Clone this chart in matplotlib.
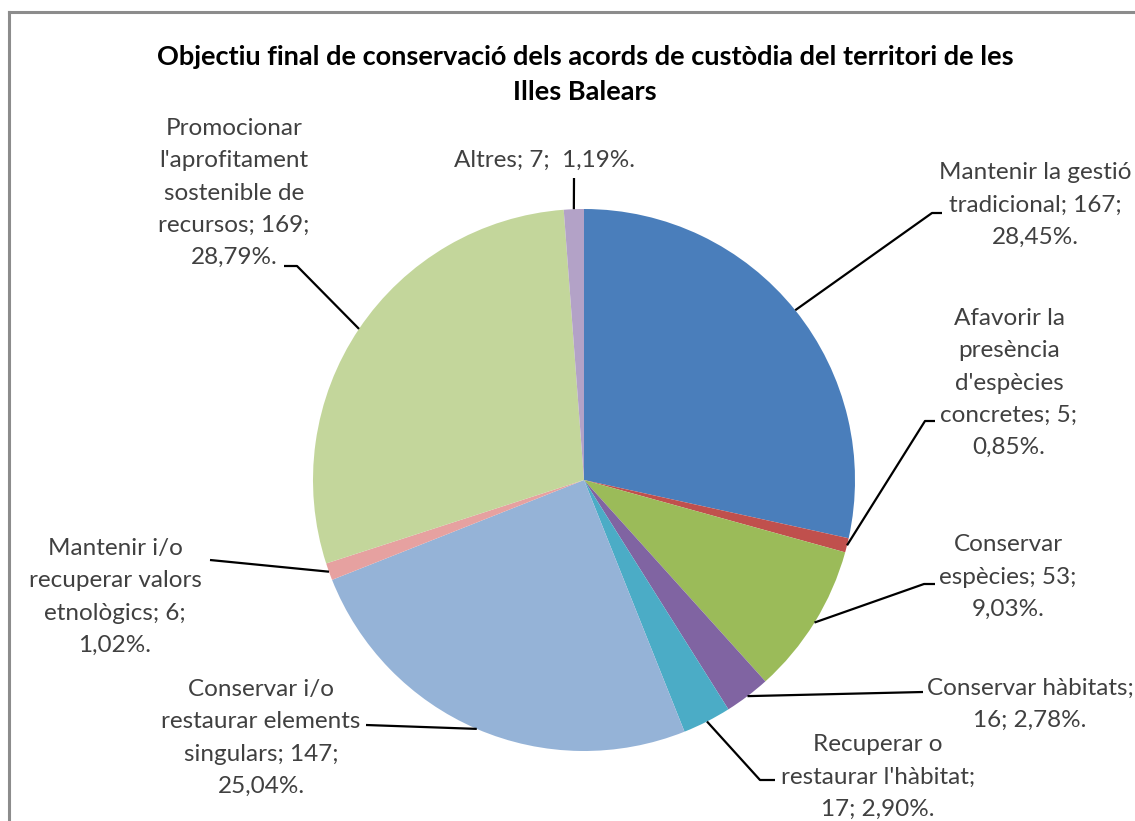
import numpy as np
import matplotlib
matplotlib.use('Agg')
import matplotlib.pyplot as plt
from matplotlib.lines import Line2D

# Data (clockwise from 12 o'clock)
labels = ["Mantenir la gestió\ntradicional; 167;\n28,45%.",
          "Afavorir la\npresència\nd'espècies\nconcretes; 5;\n0,85%.",
          "Conservar\nespècies; 53;\n9,03%.",
          "Conservar hàbitats;\n16; 2,78%.",
          "Recuperar o\nrestaurar l'hàbitat;\n17; 2,90%.",
          "Conservar i/o\nrestaurar elements\nsingulars; 147;\n25,04%.",
          "Mantenir i/o\nrecuperar valors\netnològics; 6;\n1,02%.",
          "Promocionar\nl'aprofitament\nsostenible de\nrecursos; 169;\n28,79%.",
          "Altres; 7;  1,19%."]
values = [167, 5, 53, 16, 17, 147, 6, 169, 7]
colors = ['#4A7EBB', '#C0504D', '#9BBB59', '#8064A2', '#4BACC6',
          '#95B3D7', '#E6A1A0', '#C3D69B', '#B3A2C7']

W, H = 1135, 821
cx, cy, r = 584, 480, 271   # pie centre / radius in pixels (from top)

# label text centres and leader elbow/end points (pixels from top)
text_pos = [(1035, 205), (1009, 383), (1008, 577), (1030, 704), (878, 777),
            (261, 738), (115, 597), (234, 193), (545, 160)]
leader = [[(932, 213), (942, 213)],
          [(925, 421), (935, 421)],
          [(924, 584), (935, 584)],
          [(923, 692)],
          [(760, 780), (775, 780)],
          [(366, 725)],
          [(210, 560)],
          [(297, 266), (284, 266)],
          [(574, 178)]]

plt.rcParams['font.family'] = ['Lato', 'DejaVu Sans']

fig = plt.figure(figsize=(W / 100, H / 100), dpi=100)
ax = fig.add_axes([0, 0, 1, 1])

def Y(y):
    return H - y

wedges, _ = ax.pie(values, colors=colors, startangle=90, counterclock=False,
                   center=(cx, Y(cy)), radius=r, frame=True,
                   wedgeprops=dict(linewidth=0))
ax.set_xlim(0, W)
ax.set_ylim(0, H)
ax.set_aspect('equal')
ax.axis('off')

# leader lines + labels
for w, lab, tp, pts in zip(wedges, labels, text_pos, leader):
    ang = np.deg2rad((w.theta1 + w.theta2) / 2)
    x0 = cx + r * np.cos(ang)
    y0 = Y(cy) + r * np.sin(ang)
    xs = [x0] + [p[0] for p in pts]
    ys = [y0] + [Y(p[1]) for p in pts]
    ax.plot(xs, ys, color='black', lw=1.6, solid_capstyle='butt')
    ax.text(tp[0], Y(tp[1]), lab, ha='center', va='center', fontsize=17.5,
            color='#404040', linespacing=1.66)

# title
ax.text(585, Y(57), "Objectiu final de conservació dels acords de custòdia del territori de les",
        ha='center', va='center', fontsize=19.5, fontweight='bold', color='black')
ax.text(585, Y(92), "Illes Balears", ha='center', va='center', fontsize=19.5,
        fontweight='bold', color='black')

# chart frame (left and top edges visible)
fig.add_artist(Line2D([9 / W, 9 / W], [0, 1 - 12 / H], transform=fig.transFigure,
                      color='#8C8C8C', lw=2.2))
fig.add_artist(Line2D([9 / W, 1], [1 - 12 / H, 1 - 12 / H], transform=fig.transFigure,
                      color='#8C8C8C', lw=2.2))

fig.savefig('out.png', dpi=100)
